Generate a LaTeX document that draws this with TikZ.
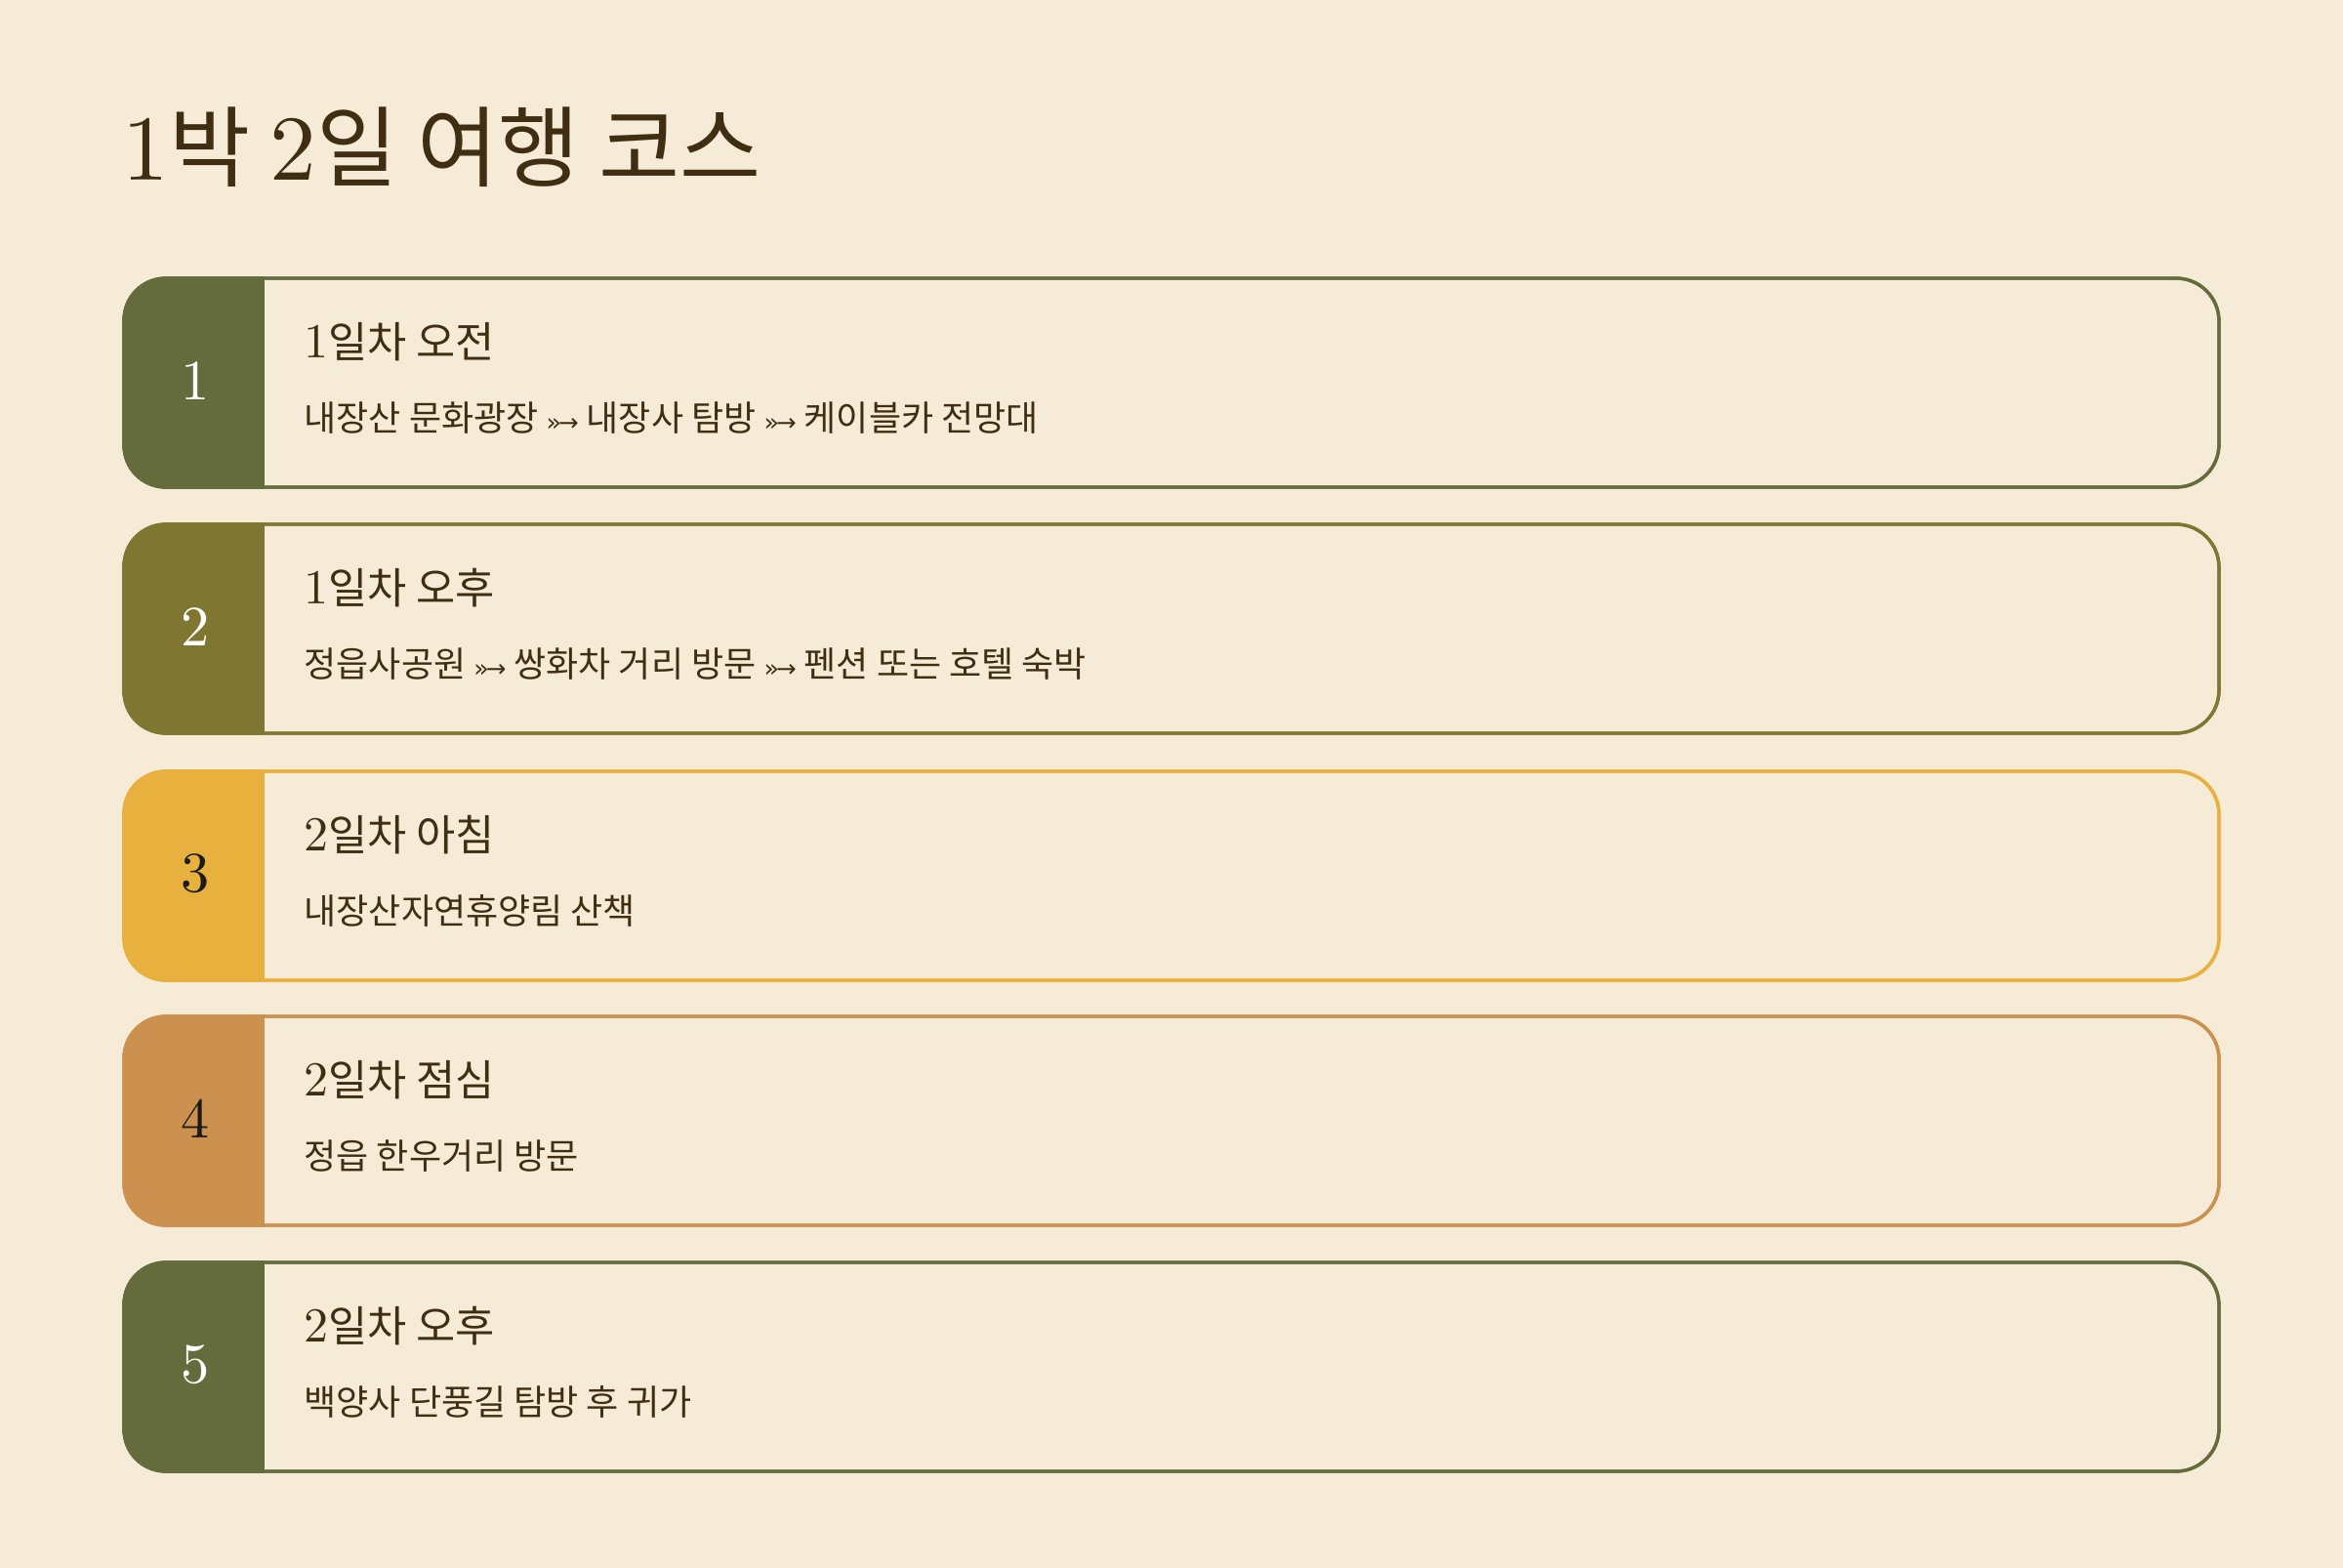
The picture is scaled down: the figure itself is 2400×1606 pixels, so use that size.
\documentclass[tikz,border=0pt]{standalone}
\usepackage{fontspec}
\newfontfamily\kr{Noto Sans CJK KR}
\newfontfamily\dv{DejaVu Sans}
\newfontfamily\lmd{lmroman10-regular}[Extension=.otf]
\usetikzlibrary{calc}
\definecolor{bgc}{HTML}{F6EBD6}
\definecolor{ink}{HTML}{3F2E12}
\definecolor{cOlive}{HTML}{646C3D}
\definecolor{cMoss}{HTML}{7F7631}
\definecolor{cGold}{HTML}{E8B03D}
\definecolor{cOchre}{HTML}{CC914E}
\definecolor{numdark}{HTML}{1A1A1A}
\newcommand{\arr}{{\dv\fontsize{7.6}{8}\selectfont »\kern-0.9pt\fontsize{7.4}{8}\selectfont →}}
\newcommand{\tdig}[1]{{\lmd\fontsize{15}{16}\selectfont #1}}
\tikzset{
  cardbox/.style={draw=#1, line width=1pt, rounded corners=13.2pt, minimum width=643.8pt, minimum height=64.2pt, inner sep=0pt},
  numtext/.style={font=\lmd\fontsize{17.5}{19}\selectfont, text=#1, anchor=center},
  cardtitle/.style={anchor=base west, text=ink, font=\kr\fontsize{13.1}{14}\selectfont, inner sep=0pt},
  cardsub/.style={anchor=base west, text=ink, font=\kr\fontsize{10.8}{12}\selectfont, inner sep=0pt},
}
% #1 name, #2 center y, #3 color, #4 number color, #5 number, #6 digit, #7 title rest, #8 subtitle
\newcommand{\card}[8]{%
  \node[cardbox=#3] (#1) at (1200,#2) {};
  \begin{scope}
    \clip[rounded corners=13.2pt] (#1.north west) rectangle (#1.south east);
    \fill[#3] (#1.north west) rectangle ([xshift=43.8pt]#1.south west);
  \end{scope}
  \node[cardbox=#3] at (#1.center) {};
  \node[numtext=#4] (#1num) at (200,#2-2) {#5};
  \node[cardtitle] (#1title) at (311,#2-25) {\tdig{#6}#7};
  \node[cardsub] (#1sub) at (311,#2+50) {#8};
}
\begin{document}
\begin{tikzpicture}[x=0.3pt,y=-0.3pt]
  \fill[bgc] (0,0) rectangle (2400,1606);
  \useasboundingbox (0,0) rectangle (2400,1606);
  \node[anchor=base west, inner sep=0pt, text=ink] (title) at (125,185)
    {{\lmd\fontsize{28.5}{30}\selectfont 1}{\kr\fontsize{27.1}{30}\selectfont 박 }{\lmd\fontsize{28.5}{30}\selectfont 2}{\kr\fontsize{27.1}{30}\selectfont 일 여행 코스}};
  \card{c1}{392}{cOlive}{white}{1}{1}{일차 오전}{내장산 문화광장 \arr{} 내장사 탐방 \arr{} 케이블카 전망대}
  \card{c2}{644}{cMoss}{white}{2}{1}{일차 오후}{정읍사공원 \arr{} 쌍화차 거리 방문 \arr{} 펜션 또는 호텔 숙박}
  \card{c3}{897}{cGold}{numdark}{3}{2}{일차 아침}{내장산자연휴양림 산책}
  \card{c4}{1148}{cOchre}{numdark}{4}{2}{일차 점심}{정읍 한우거리 방문}
  \card{c5}{1400}{cOlive}{white}{5}{2}{일차 오후}{백양사 단풍길 탐방 후 귀가}
\end{tikzpicture}
\end{document}
